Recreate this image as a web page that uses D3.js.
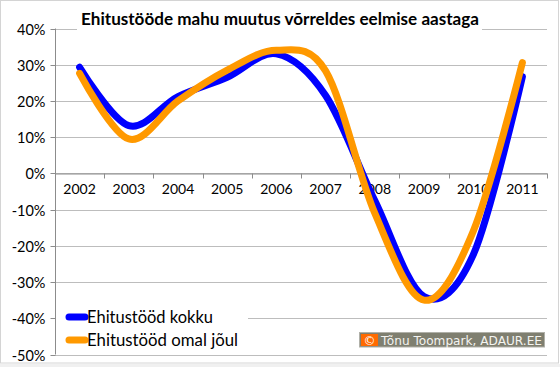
<!DOCTYPE html>
<html><head><meta charset="utf-8">
<script src="https://cdn.jsdelivr.net/npm/d3@7"></script>
<style>body{margin:0;background:#fff;} svg{display:block;}</style>
</head><body>
<svg id="c" width="560" height="367"></svg>
<script>
const years = ["2002","2003","2004","2005","2006","2007","2008","2009","2010","2011"];
const kokku = [29.3, 13.2, 21.2, 26.5, 33.0, 21.5, -7.5, -34.0, -22.5, 26.7];
const omalJoul = [27.6, 9.5, 20.0, 28.5, 34.0, 28.3, -11.0, -35.0, -16.0, 30.6];
const yTicks = [40, 30, 20, 10, 0, -10, -20, -30, -40, -50];
const seriesNames = ["Ehitustööd kokku", "Ehitustööd omal jõul"];
const seriesColors = ["#0000ff", "#ff9900"];
const titleText = "Ehitustööde mahu muutus võrreldes eelmise aastaga";
const creditText = "Tõnu Toompark, ADAUR.EE";

const svg = d3.select("#c");
const W = 560, H = 367;
const L = 55, R = 547, T = 28.5, B = 354.5;

svg.append("rect").attr("x",0.5).attr("y",0.5).attr("width",W-2).attr("height",362.5)
  .attr("fill","#ffffff").attr("stroke","#d4d4d4");
svg.append("rect").attr("x",0).attr("y",364).attr("width",W).attr("height",3).attr("fill","#f0f0f0");

const x = d3.scaleBand().domain(years).range([L, R]);
const y = d3.scaleLinear().domain([-50, 40]).range([B, T]);

// gridlines
svg.append("g").selectAll("line").data(yTicks).join("line")
  .attr("x1", L).attr("x2", R)
  .attr("y1", d => Math.round(y(d)) + 0.5).attr("y2", d => Math.round(y(d)) + 0.5)
  .attr("stroke", "#bdbdbd").attr("stroke-width", 1);

// y axis
const yAxis = d3.axisLeft(y).tickValues(yTicks).tickSize(5).tickFormat(d => d + "%");
const gy = svg.append("g").attr("transform", `translate(${L + 0.5},0)`).call(yAxis);
gy.select(".domain").attr("stroke", "#8c8c8c").attr("d", `M0,${T}V${B}`);
gy.selectAll(".tick line").attr("stroke", "#8c8c8c");
gy.selectAll(".tick").attr("transform", d => `translate(0,${Math.round(y(d)) + 0.5})`);
gy.selectAll("text").attr("font-family", "Lato, sans-serif").attr("font-size", 14.5)
  .attr("fill", "#000").attr("x", -10).attr("dy", "0.35em");

// x axis at 0
const xAxis = d3.axisBottom(x).tickSize(0).tickPadding(11);
const gx = svg.append("g").attr("transform", `translate(0,${Math.round(y(0)) + 0.5})`).call(xAxis);
gx.select(".domain").attr("stroke", "#8c8c8c");
gx.selectAll(".tick line").remove();
gx.selectAll("text").attr("font-family", "Lato, sans-serif").attr("font-size", 14).attr("fill", "#000");
gx.selectAll(".edge").data(years.concat(["end"])).join("line")
  .attr("x1", (d,i) => Math.round(L + i * x.bandwidth()) + 0.5)
  .attr("x2", (d,i) => Math.round(L + i * x.bandwidth()) + 0.5)
  .attr("y1", 0).attr("y2", 5).attr("stroke", "#8c8c8c");

// title box
svg.append("rect").attr("x", 77).attr("y", 5).attr("width", 405).attr("height", 28).attr("fill", "#fff");
svg.append("text").attr("x", 280).attr("y", 24.5).attr("text-anchor", "middle")
  .attr("font-family", "Lato, sans-serif").attr("font-weight", "bold").attr("font-size", 17.5)
  .attr("textLength", 398).attr("lengthAdjust", "spacingAndGlyphs")
  .text(titleText);

// lines
const line = d3.line().x((d,i) => x(years[i]) + x.bandwidth()/2).y(d => y(d))
  .curve(d3.curveCardinal.tension(0));
[kokku, omalJoul].forEach((s, k) => {
  svg.append("path").attr("d", line(s)).attr("fill", "none")
    .attr("stroke", seriesColors[k]).attr("stroke-width", 7)
    .attr("stroke-linejoin", "round").attr("stroke-linecap", "round");
});

// legend
svg.append("rect").attr("x", 56).attr("y", 306).attr("width", 192).attr("height", 47).attr("fill", "#fff");
const legendLens = [126, 151];
seriesNames.forEach((n, k) => {
  const yy = 317 + k * 23;
  svg.append("line").attr("x1", 69).attr("x2", 85).attr("y1", yy).attr("y2", yy)
    .attr("stroke", seriesColors[k]).attr("stroke-width", 7).attr("stroke-linecap", "round");
  svg.append("text").attr("x", 87).attr("y", yy + 6)
    .attr("font-family", "Lato, sans-serif").attr("font-size", 18).attr("fill", "#000")
    .attr("textLength", legendLens[k]).attr("lengthAdjust", "spacingAndGlyphs")
    .text(n);
});

// credit box
svg.append("rect").attr("x", 359.5).attr("y", 332.5).attr("width", 185).attr("height", 14.5)
  .attr("fill", "#7f7f70").attr("stroke", "#b0b0a8");
svg.append("rect").attr("x", 361).attr("y", 334).attr("width", 17).attr("height", 12).attr("fill", "#ff6a00");
svg.append("text").attr("x", 369.5).attr("y", 344.5).attr("text-anchor", "middle")
  .attr("font-family", "DejaVu Sans, sans-serif").attr("font-size", 12).attr("fill", "#fff").text("©");
svg.append("text").attr("x", 381).attr("y", 344.5)
  .attr("font-family", "DejaVu Sans, sans-serif").attr("font-size", 12.5).attr("fill", "#f4f4f0")
  .attr("textLength", 161).attr("lengthAdjust", "spacingAndGlyphs")
  .text(creditText);
</script>
</body></html>
